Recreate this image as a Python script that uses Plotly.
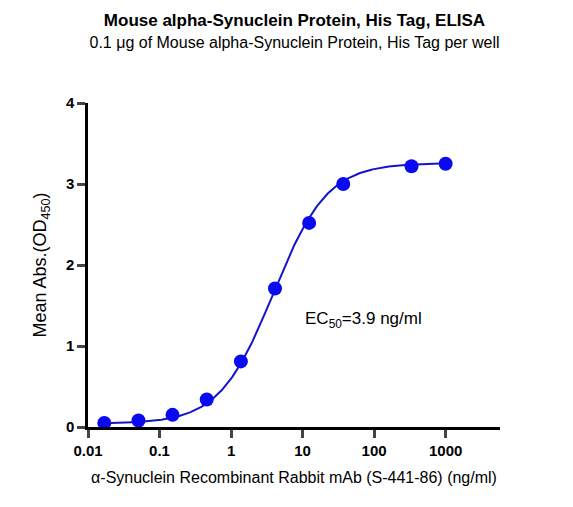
import numpy as np
import plotly.graph_objects as go

# ELISA dilution series (ng/ml) and mean OD450
conc = [1000, 333.3, 37.04, 12.35, 4.115, 1.372, 0.457, 0.152, 0.0508, 0.0169]
od = [3.25, 3.22, 3.0, 2.52, 1.71, 0.81, 0.34, 0.15, 0.08, 0.05]

# 4PL fit parameters
bottom, top, ec50, hill = 0.04, 3.26, 3.9, 1.15

xs = np.logspace(np.log10(min(conc)), np.log10(max(conc)), 300)
fit = bottom + (top - bottom) / (1 + (ec50 / xs) ** hill)

fig = go.Figure()
fig.add_trace(go.Scatter(x=xs, y=fit, mode='lines', line=dict(color='#1414c8', width=2), hoverinfo='skip'))
fig.add_trace(go.Scatter(x=conc, y=od, mode='markers', marker=dict(color='#0a0af0', size=14)))

fig.add_annotation(x=np.log10(70), y=1.32, text='EC<sub>50</sub>=3.9 ng/ml', showarrow=False,
                   font=dict(size=17, color='black'))

fig.update_layout(
    width=573, height=507,
    plot_bgcolor='white', paper_bgcolor='white',
    showlegend=False,
    font=dict(family='Liberation Sans, Arial', color='black'),
    margin=dict(l=80, r=81, t=95, b=88),
    title=dict(text='<b>Mouse alpha-Synuclein Protein, His Tag, ELISA</b><br>'
                    '<span style="font-size:16px">0.1 μg of Mouse alpha-Synuclein Protein, His Tag per well</span>',
               x=0.5, xanchor='center', y=0.965, yanchor='top', font=dict(size=17)),
    xaxis=dict(type='log', range=[-2, 3.76], tickvals=[0.01, 0.1, 1, 10, 100, 1000],
               ticktext=['<b>0.01</b>', '<b>0.1</b>', '<b>1</b>', '<b>10</b>', '<b>100</b>', '<b>1000</b>'],
               showline=True, linecolor='black', linewidth=2.5, ticks='outside', ticklen=8, tickwidth=2.5,
               showgrid=False, zeroline=False, tickfont=dict(size=15),
               title=dict(text='α-Synuclein Recombinant Rabbit mAb (S-441-86) (ng/ml)', font=dict(size=16))),
    yaxis=dict(range=[0, 4], tickvals=[0, 1, 2, 3, 4], ticktext=['<b>0</b>', '<b>1</b>', '<b>2</b>', '<b>3</b>', '<b>4</b>'],
               showline=True, linecolor='black', linewidth=2.5, ticks='outside', ticklen=8, tickwidth=2.5,
               showgrid=False, zeroline=False, tickfont=dict(size=15),
               title=dict(text='Mean Abs.(OD<sub>450</sub>)', font=dict(size=18))),
)

fig.write_html("out.html")
